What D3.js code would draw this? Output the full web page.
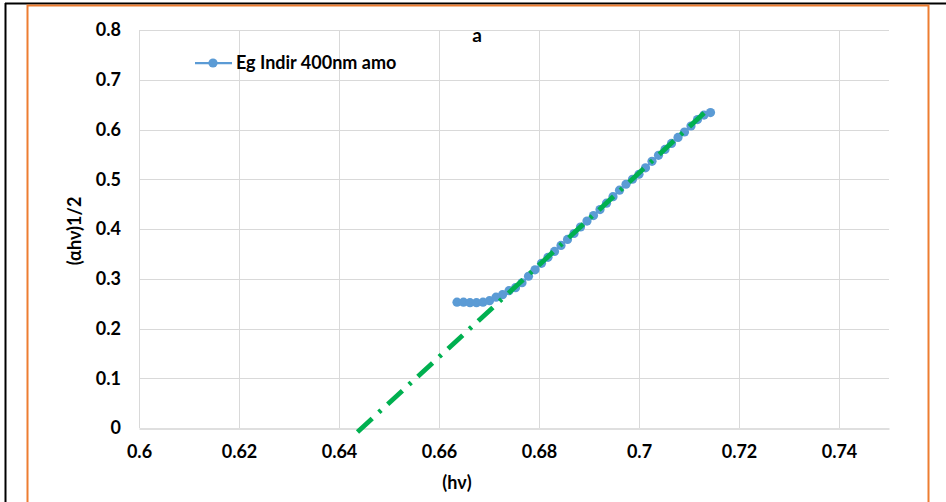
<!DOCTYPE html>
<html>
<head>
<meta charset="utf-8">
<script src="https://cdn.jsdelivr.net/npm/d3@7"></script>
<style>
    body { margin: 0; background: #fff; }
    svg { display: block; }
    text { font-family: Lato, "Liberation Sans", sans-serif; font-weight: bold; fill: #000; }
</style>
</head>
<body>
<svg id="chart" width="946" height="502"></svg>
<script>
// valores
const hv = [0.6636, 0.6649, 0.6662, 0.6675, 0.6688, 0.6701, 0.6714, 0.6727, 0.6740, 0.6753,
    0.6766, 0.6779, 0.6792, 0.6805, 0.6818, 0.6831, 0.6844, 0.6857, 0.6870, 0.6883,
    0.6896, 0.6909, 0.6922, 0.6935, 0.6948, 0.6961, 0.6974, 0.6987, 0.7000, 0.7013,
    0.7026, 0.7039, 0.7052, 0.7065, 0.7078, 0.7091, 0.7104, 0.7117, 0.7130, 0.7143];
const ahv = [0.253, 0.253, 0.252, 0.252, 0.253, 0.256, 0.263, 0.268, 0.276, 0.282,
    0.292, 0.305, 0.318, 0.331, 0.343, 0.355, 0.367, 0.379, 0.391, 0.404,
    0.416, 0.427, 0.439, 0.452, 0.465, 0.478, 0.490, 0.500, 0.510, 0.523,
    0.536, 0.548, 0.560, 0.572, 0.584, 0.595, 0.607, 0.620, 0.629, 0.634];
const fitX = [0.6437, 0.7140];
const fitY = [-0.008, 0.642];
const xTicks = [0.6, 0.62, 0.64, 0.66, 0.68, 0.7, 0.72, 0.74];
const yTicks = [0, 0.1, 0.2, 0.3, 0.4, 0.5, 0.6, 0.7, 0.8];
const seriesName = "Eg Indir 400nm amo";
const title = "a";
const xTitle = "(hν)";
const yTitle = "(αhν)1/2";

function drawChart() {
    const svg = d3.select("#chart");

    // marcos exteriores
    svg.append("line").attr("x1", 5).attr("x2", 946).attr("y1", 3.5).attr("y2", 3.5)
        .attr("stroke", "#000").attr("stroke-width", 2);
    svg.append("line").attr("x1", 5.5).attr("x2", 5.5).attr("y1", 3).attr("y2", 502)
        .attr("stroke", "#000").attr("stroke-width", 2);
    svg.append("rect").attr("x", 27.5).attr("y", 5.5).attr("width", 901).attr("height", 510)
        .attr("fill", "none").attr("stroke", "#ED7D31").attr("stroke-width", 2);

    const x = d3.scaleLinear().domain([0.6, 0.75]).range([139, 889]);
    const y = d3.scaleLinear().domain([0, 0.8]).range([428, 30]);

    // rejilla
    svg.append("g").selectAll("line").data(yTicks.slice(1)).enter().append("line")
        .attr("x1", 139).attr("x2", 889)
        .attr("y1", d => Math.round(y(d)) + 0.5).attr("y2", d => Math.round(y(d)) + 0.5)
        .attr("stroke", "#D9D9D9");
    svg.append("g").selectAll("line").data(xTicks).enter().append("line")
        .attr("x1", d => Math.round(x(d)) + 0.5).attr("x2", d => Math.round(x(d)) + 0.5)
        .attr("y1", 30).attr("y2", 428)
        .attr("stroke", "#D9D9D9");

    const xAxis = svg.append("g").attr("transform", "translate(0,428.5)")
        .call(d3.axisBottom(x).tickValues(xTicks).tickSize(0).tickPadding(17).tickFormat(d3.format("")));
    xAxis.select(".domain").attr("stroke", "#BFBFBF");
    xAxis.selectAll("text").style("font-size", "18px");

    const yAxis = svg.append("g").attr("transform", "translate(139,0)")
        .call(d3.axisLeft(y).tickValues(yTicks).tickSize(0).tickPadding(18).tickFormat(d3.format("")));
    yAxis.select(".domain").remove();
    yAxis.selectAll("text").style("font-size", "18px");

    // serie
    const pts = hv.map((d, i) => [d, ahv[i]]);
    svg.append("path").datum(pts)
        .attr("fill", "none").attr("stroke", "#5B9BD5").attr("stroke-width", 2.25)
        .attr("d", d3.line().x(d => x(d[0])).y(d => y(d[1])));
    svg.append("g").selectAll("circle").data(pts).enter().append("circle")
        .attr("cx", d => x(d[0])).attr("cy", d => y(d[1])).attr("r", 4.6)
        .attr("fill", "#5B9BD5");

    // linea de tendencia
    svg.append("path").datum(fitX.map((d, i) => [d, fitY[i]]))
        .attr("fill", "none").attr("stroke", "#00B050").attr("stroke-width", 4.8)
        .attr("stroke-dasharray", "20,9,3,9")
        .attr("d", d3.line().x(d => x(d[0])).y(d => y(d[1])));

    // leyenda
    svg.append("line").attr("x1", 195).attr("x2", 232).attr("y1", 63).attr("y2", 63)
        .attr("stroke", "#5B9BD5").attr("stroke-width", 2.25);
    svg.append("circle").attr("cx", 213).attr("cy", 63).attr("r", 4.6).attr("fill", "#5B9BD5");
    svg.append("text").attr("x", 236).attr("y", 69).style("font-size", "18px").text(seriesName);

    // titulos
    svg.append("text").attr("x", 477).attr("y", 42).attr("text-anchor", "middle")
        .style("font-size", "19px").text(title);
    svg.append("text").attr("x", 457).attr("y", 489).attr("text-anchor", "middle")
        .style("font-size", "18px").text(xTitle);
    svg.append("text").attr("transform", "translate(81,231) rotate(-90)").attr("text-anchor", "middle")
        .style("font-size", "18px").text(yTitle);
}

drawChart();
</script>
</body>
</html>
